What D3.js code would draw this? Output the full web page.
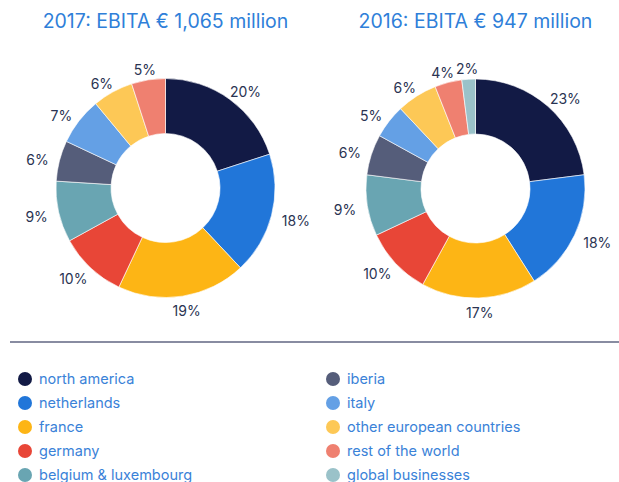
<!DOCTYPE html>
<html>
<head>
<meta charset="utf-8">
<script src="https://cdn.jsdelivr.net/npm/d3@7"></script>
<style>
  html, body { margin: 0; padding: 0; background: #fff; overflow: hidden; }
  svg { display: block; font-family: Inter, "Open Sans", sans-serif; }
</style>
</head>
<body>
<svg id="chart" width="619" height="482"></svg>
<script>
// Regions, in legend order
const regions = [
  "north america", "netherlands", "france", "germany", "belgium & luxembourg",
  "iberia", "italy", "other european countries", "rest of the world", "global businesses"
];
const regionColors = [
  "#121a45", "#2176d9", "#fdb515", "#e84637", "#69a5b2",
  "#555d7a", "#64a0e5", "#fdc856", "#ef8070", "#9ac2c9"
];
// EBITA share per region (%)
const share2017 = [20, 18, 19, 10, 9, 6, 7, 6, 5, 0];
const share2016 = [23, 18, 17, 10, 9, 6, 5, 6, 4, 2];
const titles = ["2017: EBITA € 1,065 million", "2016: EBITA € 947 million"];

const svg = d3.select("#chart");
const color = d3.scaleOrdinal().domain(regions).range(regionColors);

const donuts = [
  { title: titles[0], values: share2017, cx: 165.5, cy: 188 },
  { title: titles[1], values: share2016, cx: 475.5, cy: 188.5 }
];

const outerR = 109.5, innerR = 54.5, labelR = 122;
const pie = d3.pie().sort(null).value(d => d.v);
const arc = d3.arc().innerRadius(innerR).outerRadius(outerR);

donuts.forEach(d => {
  svg.append("text")
    .attr("x", d.cx).attr("y", 28)
    .attr("text-anchor", "middle")
    .attr("fill", "#2f7fd9")
    .attr("font-size", 19.5)
    .text(d.title);

  const data = regions.map((r, i) => ({ r, v: d.values[i] }));
  const g = svg.append("g").attr("transform", `translate(${d.cx},${d.cy})`);
  const arcs = pie(data).filter(a => a.data.v > 0);

  g.selectAll("path").data(arcs).join("path")
    .attr("d", arc)
    .attr("fill", a => color(a.data.r))
    .attr("stroke", "#fff")
    .attr("stroke-width", 0.6);

  // percentage labels: pushed outward by half their width on the sides
  g.selectAll("text").data(arcs).join("text")
    .attr("text-anchor", "middle")
    .attr("dy", "0.35em")
    .attr("fill", "#2a3352")
    .attr("font-size", 14)
    .text(a => a.data.v + "%")
    .each(function (a) {
      const t = (a.startAngle + a.endAngle) / 2;
      const w = this.getComputedTextLength();
      const x = Math.sin(t) * labelR + Math.sin(t) * w * 0.45;
      const y = -Math.cos(t) * labelR + 2.5;
      d3.select(this).attr("x", x).attr("y", y);
    });
});

// separator rule
svg.append("line")
  .attr("x1", 10).attr("x2", 619)
  .attr("y1", 342).attr("y2", 342)
  .attr("stroke", "#121a45").attr("stroke-width", 1.2);

// legend, two columns of five
const legend = svg.append("g");
const items = legend.selectAll("g").data(regions).join("g")
  .attr("transform", (r, i) => `translate(${i < 5 ? 25 : 333},${379 + (i % 5) * 24})`);
items.append("circle").attr("r", 7).attr("fill", r => color(r));
items.append("text")
  .attr("x", 14).attr("dy", "0.35em")
  .attr("fill", "#3a82d8")
  .attr("font-size", 14.5)
  .text(r => r);
</script>
</body>
</html>
